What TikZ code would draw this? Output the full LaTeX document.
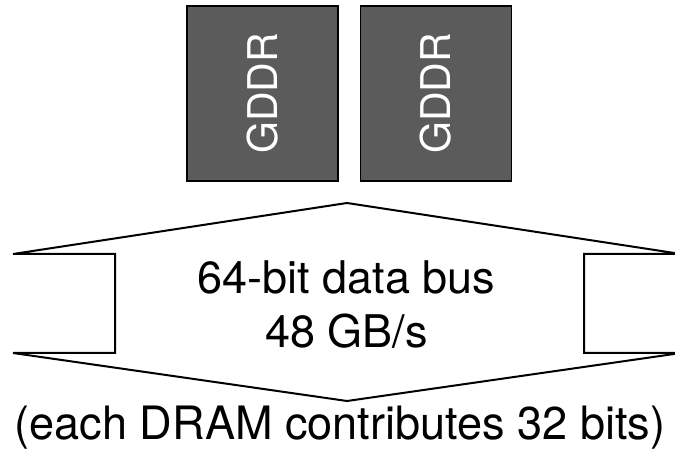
\documentclass[tikz,border=0pt]{standalone}
\usepackage{fontspec}
\setmainfont{TeX Gyre Heros}
\begin{document}
\begin{tikzpicture}[x=1pt,y=-1pt,
  chip/.style={draw=black,line width=1.5pt,fill=chipgray,minimum width=151pt,minimum height=175pt,inner sep=0pt},
  chiplabel/.style={text=white,font=\fontsize{41}{41}\selectfont,rotate=90},
  bus/.style={draw=black,line width=2pt,line join=miter},
  lbl/.style={font=\fontsize{45}{54}\selectfont,align=center,inner sep=0pt}]
\definecolor{chipgray}{HTML}{5B5B5B}
\path[use as bounding box] (0,0) rectangle (675,454);
\clip (0,0) rectangle (675,454);
\node[chip] (g1) at (262.5,93.5) {};
\node[chip] (g2) at (436,93.5) {};
\node[chiplabel] (t1) at (g1.center) {GDDR};
\node[chiplabel] (t2) at (g2.center) {GDDR};
\draw[bus] (347,203) -- (681,254) -- (584,254) -- (584,353) -- (681,353) -- (347,401)
  -- (13,353) -- (115,353) -- (115,254) -- (13,254) -- cycle;
\node[lbl] (bus) at (346.5,305) {64-bit data bus\\48 GB/s};
\node[lbl,font=\fontsize{46}{46}\selectfont,xscale=0.98] (note) at (340,428) {(each DRAM contributes 32 bits)};
\end{tikzpicture}
\end{document}
